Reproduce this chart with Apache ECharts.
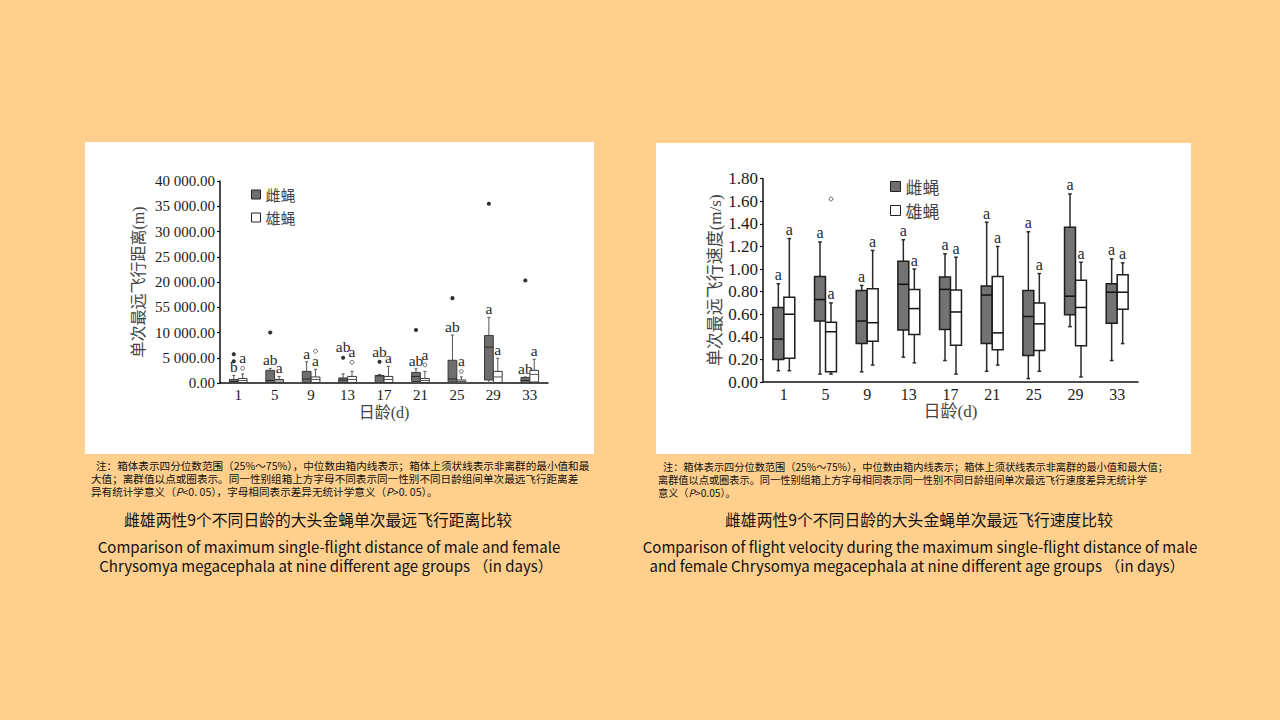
<!DOCTYPE html>
<html><head><meta charset="utf-8">
<script src="https://cdn.jsdelivr.net/npm/echarts@6/dist/echarts.min.js"></script>
<style>html,body{margin:0;padding:0;background:#FFCF8E;}#c{width:1280px;height:720px;}</style>
</head><body><div id="c"></div>
<script>
// ---------- data ----------
const days = ['1', '5', '9', '13', '17', '21', '25', '29', '33'];
const distYTicks = ['0.00', '5 000.00', '10 000.00', '55 000.00', '20 000.00', '25 000.00', '30 000.00', '35 000.00', '40 000.00'];
const speedYTicks = ['0.00', '0.20', '0.40', '0.60', '0.80', '1.00', '1.20', '1.40', '1.60', '1.80'];
// [min, Q1, median, Q3, max]  distance (m)
const distFemale = [
  [0, 50, 300, 700, 1500], [0, 100, 500, 2500, 2900], [0, 100, 800, 2300, 4200],
  [0, 100, 600, 1000, 1800], [0, 100, 1400, 1500, 1700], [0, 300, 1300, 2100, 2800],
  [0, 200, 800, 4500, 9500], [0, 600, 7100, 9400, 13000], [0, 50, 500, 1100, 1200]
];
const distMale = [
  [0, 100, 500, 900, 1800], [0, 100, 400, 700, 1300], [0, 100, 700, 1200, 2700],
  [0, 100, 700, 1300, 2300], [0, 100, 700, 1300, 3300], [0, 100, 500, 900, 2300],
  [0, 50, 300, 600, 1200], [0, 100, 1200, 2300, 4900], [0, 200, 1700, 2500, 4700]
];
const distFemaleOutliers = [[4300, 5700], [10000], [], [5000], [4200], [10500], [16800], [35500], [20300]];
const distMaleOutliers = [[2900], [], [6300], [4100], [], [3600], [2300], [], []];
const distFemaleLetters = ['b', 'ab', 'a', 'ab', 'ab', 'ab', 'ab', 'a', 'ab'];
const distMaleLetters = ['a', 'a', 'a', 'a', 'a', 'a', 'a', 'a', 'a'];
// speed (m/s)
const speedFemale = [
  [0.10, 0.20, 0.38, 0.66, 0.87], [0.07, 0.54, 0.73, 0.935, 1.24], [0.09, 0.34, 0.54, 0.81, 0.855],
  [0.22, 0.46, 0.865, 1.07, 1.26], [0.19, 0.465, 0.82, 0.93, 1.135], [0.095, 0.34, 0.77, 0.85, 1.415],
  [0.03, 0.235, 0.58, 0.81, 1.33], [0.49, 0.595, 0.76, 1.37, 1.665], [0.19, 0.52, 0.795, 0.87, 1.09]
];
const speedMale = [
  [0.10, 0.21, 0.60, 0.75, 1.27], [0.07, 0.09, 0.445, 0.53, 0.70], [0.15, 0.36, 0.525, 0.825, 1.165],
  [0.17, 0.42, 0.65, 0.82, 1.00], [0.07, 0.325, 0.62, 0.815, 1.105], [0.15, 0.285, 0.435, 0.935, 1.20],
  [0.095, 0.28, 0.515, 0.70, 0.96], [0.045, 0.32, 0.66, 0.90, 1.06], [0.34, 0.645, 0.795, 0.95, 1.055]
];
const speedFemaleOutliers = [[], [], [], [], [], [], [], [], []];
const speedMaleOutliers = [[], [1.62], [], [], [], [], [], [], []];
const speedFemaleLetters = ['a', 'a', 'a', 'a', 'a', 'a', 'a', 'a', 'a'];
const speedMaleLetters = ['a', 'a', 'a', 'a', 'a', 'a', 'a', 'a', 'a'];
const legendNames = ['雌蝇', '雄蝇'];

// ---------- styling helpers ----------
const SERIF = "'Liberation Serif','DejaVu Serif','Noto Sans CJK SC',serif";
const SANS = "'Noto Sans CJK SC','Noto Sans',sans-serif";

function boxData(arr) { return arr.map((v, i) => [i].concat(v)); }
function outData(arr) { return arr.flatMap((list, i) => list.map(v => [i, v])); }

function boxRender(cfg, letters, outliers) {
  return function (params, api) {
    const i = api.value(0);
    const band = api.size([1, 1])[0];
    const cx = api.coord([i, 0])[0] + cfg.offset * band;
    const hw = cfg.width * band / 2;
    const v = [1, 2, 3, 4, 5].map(k => api.value(k));
    const py = val => api.coord([i, val])[1];
    const [yMin, yQ1, yMed, yQ3, yMax] = v.map(py);
    const ls = { stroke: cfg.whisker, lineWidth: cfg.lw };
    const ch = [
      { type: 'line', shape: { x1: cx, y1: yMax, x2: cx, y2: yQ3 }, style: ls },
      { type: 'line', shape: { x1: cx, y1: yMin, x2: cx, y2: yQ1 }, style: ls },
      { type: 'line', shape: { x1: cx - cfg.cap, y1: yMax, x2: cx + cfg.cap, y2: yMax }, style: ls },
      { type: 'line', shape: { x1: cx - cfg.cap, y1: yMin, x2: cx + cfg.cap, y2: yMin }, style: ls },
      { type: 'rect', shape: { x: cx - hw, y: yQ3, width: 2 * hw, height: Math.max(yQ1 - yQ3, 0.5) },
        style: { fill: cfg.fill, stroke: cfg.stroke, lineWidth: cfg.lw } },
      { type: 'line', shape: { x1: cx - hw, y1: yMed, x2: cx + hw, y2: yMed },
        style: { stroke: cfg.median, lineWidth: cfg.medLw } }
    ];
    const outs = outliers[params.dataIndex];
    let ay = yMax - 1;
    if (outs.length === 1 && outs[0] - v[4] <= cfg.near) ay = py(outs[0]) - 3;
    ch.push({ type: 'text', style: {
      text: letters[params.dataIndex], x: cx, y: ay,
      align: 'center', verticalAlign: 'bottom', textAlign: 'center', textVerticalAlign: 'bottom',
      fontSize: cfg.fs, fontFamily: SERIF, fill: '#2a2a2a' } });
    return { type: 'group', children: ch };
  };
}
function outRender(cfg, filled) {
  return function (params, api) {
    const i = api.value(0);
    const band = api.size([1, 1])[0];
    const cx = api.coord([i, 0])[0] + cfg.offset * band;
    const y = api.coord([i, api.value(1)])[1];
    return { type: 'circle', shape: { cx: cx, cy: y, r: filled ? 2.1 : 1.9 },
      style: filled ? { fill: '#333' } : { fill: '#fff', stroke: '#666', lineWidth: 1 } };
  };
}

const Lf = { offset: -0.122, width: 0.24, fill: '#6e6e6e', stroke: '#3a3a3a', whisker: '#555', median: '#2a2a2a', lw: 1, medLw: 1, cap: 1.5, fs: 15.5, near: 3300 };
const Lm = Object.assign({}, Lf, { offset: 0.122, fill: '#ffffff', median: '#555' });
const Rf = { offset: -0.132, width: 0.262, fill: '#737373', stroke: '#1e1e1e', whisker: '#2a2a2a', median: '#111', lw: 1.5, medLw: 1.5, cap: 1.8, fs: 16, near: 0.3 };
const Rm = Object.assign({}, Rf, { offset: 0.132, fill: '#ffffff' });

const axisLine = { show: true, lineStyle: { color: '#111', width: 1.5 } };

function yAxis(grid, max, interval, ticks, name, gap, nameSize, labelSize) {
  return {
    type: 'value', gridIndex: grid, min: 0, max: max, interval: interval,
    axisLine: axisLine, axisTick: { show: true, length: 3, lineStyle: { color: '#111', width: 1.2 } },
    splitLine: { show: false },
    axisLabel: { margin: 5, fontFamily: SERIF, fontSize: labelSize, color: '#1a1a1a',
      formatter: val => ticks[Math.round(val / interval)] },
    name: name, nameLocation: 'middle', nameRotate: 90, nameGap: gap,
    nameTextStyle: { fontFamily: SERIF, fontSize: nameSize, color: '#444' }
  };
}
function xAxis(grid, labelSize, nameSize) {
  return {
    type: 'category', gridIndex: grid, data: days, boundaryGap: true,
    axisLine: axisLine, axisTick: { show: false },
    axisLabel: { margin: 4, fontFamily: SERIF, fontSize: labelSize, color: '#1a1a1a' },
    name: '日龄(d)', nameLocation: 'middle', nameGap: 21,
    nameTextStyle: { fontFamily: SERIF, fontSize: nameSize, color: '#444' }
  };
}
function legend(left, top, size, box, gap) {
  return {
    left: left, top: top, orient: 'vertical', itemWidth: box, itemHeight: box, itemGap: gap,
    selectedMode: false,
    textStyle: { fontFamily: SANS, fontSize: size, color: '#444', padding: [0, 0, 0, 0] },
    data: [
      { name: legendNames[0], icon: 'rect', itemStyle: { color: '#6e6e6e', borderColor: '#222', borderWidth: 1 } },
      { name: legendNames[1], icon: 'rect', itemStyle: { color: '#ffffff', borderColor: '#222', borderWidth: 1 } }
    ]
  };
}
function txt(x, y, text, size, align) {
  const lh = Math.round(size + 1);
  return { type: 'text', x: x, y: y, style: {
    text: text, fontFamily: SANS, fontSize: size, fill: '#111', lineHeight: lh,
    align: align, verticalAlign: 'middle', textAlign: align, textVerticalAlign: 'middle',
    rich: { i: { fontStyle: 'italic', fontFamily: SANS, fontSize: size, fill: '#111', lineHeight: lh } }
  } };
}

const chart = echarts.init(document.getElementById('c'), null, { renderer: 'svg', width: 1280, height: 720 });
chart.setOption({
  backgroundColor: '#FFCF8E',
  animation: false,
  grid: [
    { left: 220, right: 732, top: 181, bottom: 337 },
    { left: 763, right: 142, top: 178.7, bottom: 338 }
  ],
  xAxis: [xAxis(0, 15, 16), xAxis(1, 16, 17)],
  yAxis: [
    yAxis(0, 40000, 5000, distYTicks, '单次最远飞行距离(m)', 74, 16, 15),
    yAxis(1, 1.8, 0.2, speedYTicks, '单次最远飞行速度(m/s)', 38, 17, 17)
  ],
  legend: [legend(246, 182, 15, 9, 8), legend(885, 173, 17, 10, 7)],
  series: [
    { name: legendNames[0], type: 'custom', xAxisIndex: 0, yAxisIndex: 0, itemStyle: { color: '#6e6e6e' },
      data: boxData(distFemale), encode: { x: 0, y: [1, 2, 3, 4, 5] },
      renderItem: boxRender(Lf, distFemaleLetters, distFemaleOutliers) },
    { name: legendNames[1], type: 'custom', xAxisIndex: 0, yAxisIndex: 0, itemStyle: { color: '#ffffff' },
      data: boxData(distMale), encode: { x: 0, y: [1, 2, 3, 4, 5] },
      renderItem: boxRender(Lm, distMaleLetters, distMaleOutliers) },
    { name: legendNames[0], type: 'custom', xAxisIndex: 0, yAxisIndex: 0, itemStyle: { color: '#6e6e6e' },
      data: outData(distFemaleOutliers), encode: { x: 0, y: 1 }, renderItem: outRender(Lf, true) },
    { name: legendNames[1], type: 'custom', xAxisIndex: 0, yAxisIndex: 0, itemStyle: { color: '#ffffff' },
      data: outData(distMaleOutliers), encode: { x: 0, y: 1 }, renderItem: outRender(Lm, false) },
    { name: legendNames[0], type: 'custom', xAxisIndex: 1, yAxisIndex: 1, itemStyle: { color: '#737373' },
      data: boxData(speedFemale), encode: { x: 0, y: [1, 2, 3, 4, 5] },
      renderItem: boxRender(Rf, speedFemaleLetters, speedFemaleOutliers) },
    { name: legendNames[1], type: 'custom', xAxisIndex: 1, yAxisIndex: 1, itemStyle: { color: '#ffffff' },
      data: boxData(speedMale), encode: { x: 0, y: [1, 2, 3, 4, 5] },
      renderItem: boxRender(Rm, speedMaleLetters, speedMaleOutliers) },
    { name: legendNames[0], type: 'custom', xAxisIndex: 1, yAxisIndex: 1, itemStyle: { color: '#737373' },
      data: outData(speedFemaleOutliers), encode: { x: 0, y: 1 }, renderItem: outRender(Rf, true) },
    { name: legendNames[1], type: 'custom', xAxisIndex: 1, yAxisIndex: 1, itemStyle: { color: '#ffffff' },
      data: outData(speedMaleOutliers), encode: { x: 0, y: 1 }, renderItem: outRender(Rm, false) }
  ],
  graphic: { elements: [
    { type: 'rect', z: -10, shape: { x: 85, y: 142, width: 509, height: 312 }, style: { fill: '#ffffff' } },
    { type: 'rect', z: -10, shape: { x: 656, y: 143, width: 535, height: 311 }, style: { fill: '#ffffff' } },
    // notes
    txt(96, 465, '注：箱体表示四分位数范围（25%～75%），中位数由箱内线表示；箱体上须状线表示非离群的最小值和最', 10.6, 'left'),
    txt(91, 478, '大值；离群值以点或圈表示。同一性别组箱上方字母不同表示同一性别不同日龄组间单次最远飞行距离差', 10.6, 'left'),
    txt(91, 491, '异有统计学意义（{i|P}<0. 05），字母相同表示差异无统计学意义（{i|P}>0. 05）。', 10.6, 'left'),
    txt(663, 466, '注：箱体表示四分位数范围（25%～75%），中位数由箱内线表示；箱体上须状线表示非离群的最小值和最大值；', 10.2, 'left'),
    txt(658, 479, '离群值以点或圈表示。同一性别组箱上方字母相同表示同一性别不同日龄组间单次最远飞行速度差异无统计学', 10.2, 'left'),
    txt(658, 492, '意义（{i|P}>0.05）。', 10.2, 'left'),
    // captions
    txt(318, 519, '雌雄两性9个不同日龄的大头金蝇单次最远飞行距离比较', 15.8, 'center'),
    txt(329, 546, 'Comparison of maximum single-flight distance of male and female', 15, 'center'),
    txt(326, 565, 'Chrysomya megacephala at nine different age groups （in days）', 15, 'center'),
    txt(919, 519, '雌雄两性9个不同日龄的大头金蝇单次最远飞行速度比较', 15.8, 'center'),
    txt(920, 546, 'Comparison of flight velocity during the maximum single-flight distance of male', 15, 'center'),
    txt(917, 565, 'and female Chrysomya megacephala at nine different age groups （in days）', 15, 'center')
  ] }
});
</script></body></html>
